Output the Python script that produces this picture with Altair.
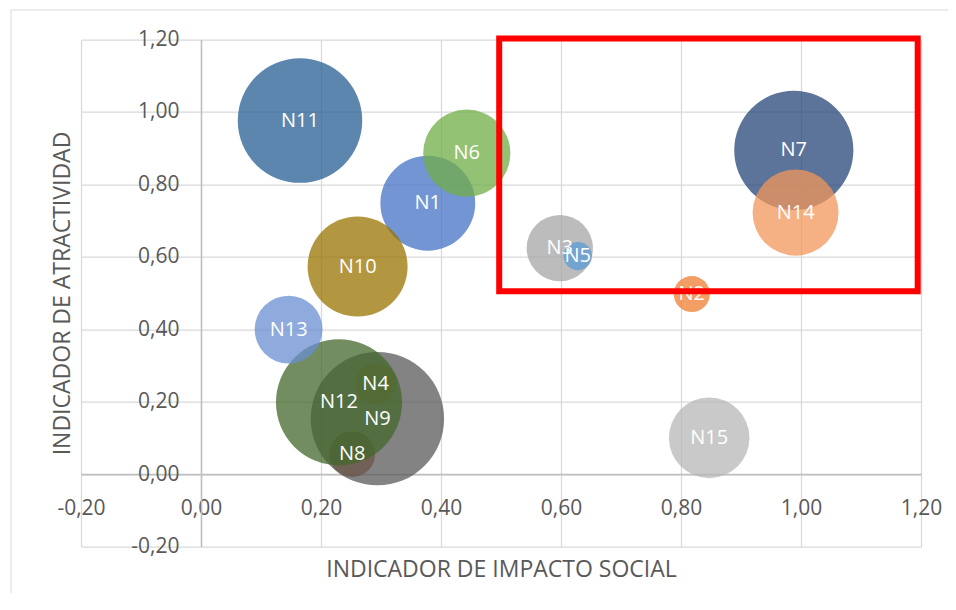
import altair as alt
import pandas as pd

# ---- data ----
nombres = ["N1", "N2", "N3", "N4", "N5", "N6", "N7", "N8", "N9", "N10",
           "N11", "N12", "N13", "N14", "N15"]
impacto_social = [0.378, 0.818, 0.598, 0.291, 0.628, 0.443, 0.988, 0.252, 0.294, 0.261,
                  0.165, 0.230, 0.146, 0.991, 0.847]
atractividad = [0.748, 0.497, 0.624, 0.249, 0.602, 0.886, 0.894, 0.055, 0.153, 0.573,
                0.976, 0.198, 0.399, 0.722, 0.100]
tamano = [90, 13, 44, 17, 8, 76, 142, 21, 178, 100,
          155, 159, 46, 74, 65]
colores = ["#4472C4", "#ED7D31", "#A5A5A5", "#FFC000", "#5B9BD5", "#70AD47", "#264478",
           "#9E480E", "#595959", "#997300", "#255E91", "#43682B", "#698ED0", "#F1975A",
           "#B7B7B7"]

marcas_eje = [-0.2, 0.0, 0.2, 0.4, 0.6, 0.8, 1.0, 1.2]

# highlighted zone (red box)
caja_x = [0.497, 1.1945]
caja_y = [0.5046, 1.2027]

TITULO_X = "INDICADOR DE IMPACTO SOCIAL"
TITULO_Y = "INDICADOR DE ATRACTIVIDAD"

df = pd.DataFrame({
    "nombre": nombres,
    "impacto": impacto_social,
    "atractividad": atractividad,
    "tamano": tamano,
    "orden": list(range(len(nombres))),
})
df_caja = pd.DataFrame({
    "impacto": [caja_x[0]], "impacto2": [caja_x[1]],
    "atractividad": [caja_y[0]], "atractividad2": [caja_y[1]],
})

W, H = 840, 507
PAD_L, PAD_T, PAD_R, PAD_B = 73, 31.5, 27, 46.5
label_expr = "replace(replace(format(datum.value, '.2f'), '.', ','), '\u2212', '-')"

xscale = alt.Scale(domain=[-0.2, 1.2], nice=False, zero=False)
yscale = alt.Scale(domain=[-0.2, 1.2], nice=False, zero=False)

x_axis = alt.Axis(
    values=marcas_eje, labelExpr=label_expr, offset=-(H / 1.4 * 0.2),
    grid=True, domain=True, domainColor="#BFBFBF", domainWidth=1.5,
    ticks=False, tickSize=0, labelPadding=23, labelFlush=False, labelOverlap=False,
    titleX=W / 2, titleY=95, titleBaseline="middle", titleAlign="center",
)
y_axis = alt.Axis(
    values=marcas_eje, labelExpr=label_expr, offset=-(W / 1.4 * 0.2),
    grid=True, domain=True, domainColor="#BFBFBF", domainWidth=1.5,
    ticks=False, tickSize=0, labelPadding=22, labelFlush=False, labelOverlap=False,
    titleX=-138.5, titleY=H / 2, titleBaseline="middle", titleAlign="center", titleAngle=270,
)

base = alt.Chart(df)

burbujas = base.mark_circle(opacity=0.75).encode(
    x=alt.X("impacto:Q", scale=xscale, axis=x_axis, title=TITULO_X),
    y=alt.Y("atractividad:Q", scale=yscale, axis=y_axis, title=TITULO_Y),
    size=alt.Size("tamano:Q", scale=alt.Scale(domain=[0, 200], range=[0, 20000]), legend=None),
    color=alt.Color("nombre:N", scale=alt.Scale(domain=nombres, range=colores), legend=None),
    order=alt.Order("orden:Q"),
)

etiquetas = base.mark_text(
    color="white", font="Open Sans", fontSize=20, align="center", baseline="middle"
).encode(
    x=alt.X("impacto:Q", title=TITULO_X),
    y=alt.Y("atractividad:Q", title=TITULO_Y),
    text="nombre:N",
)

caja = alt.Chart(df_caja).mark_rect(
    fillOpacity=0, stroke="#FF0000", strokeWidth=6
).encode(
    x=alt.X("impacto:Q", title=TITULO_X),
    x2=alt.X2("impacto2", title=TITULO_X),
    y=alt.Y("atractividad:Q", title=TITULO_Y),
    y2=alt.Y2("atractividad2", title=TITULO_Y),
)

uno = pd.DataFrame({"k": [0]})
marco_v = alt.Chart(uno).mark_rule(color="#D9D9D9", strokeWidth=1).encode(
    x=alt.value(-70), y=alt.value(-29.5), y2=alt.value(H + PAD_B)
)
marco_h = alt.Chart(uno).mark_rule(color="#D9D9D9", strokeWidth=1).encode(
    x=alt.value(-70), x2=alt.value(W + PAD_R), y=alt.value(-29.5)
)

chart = alt.layer(marco_v, marco_h, burbujas, etiquetas, caja).properties(
    width=W, height=H,
    autosize=alt.AutoSizeParams(type="none"),
    padding={"left": PAD_L, "top": PAD_T, "right": PAD_R, "bottom": PAD_B},
).configure_axis(
    labelFont="Open Sans", labelFontSize=21, labelColor="#595959",
    titleFont="Open Sans", titleFontSize=23, titleFontWeight="normal", titleColor="#595959",
    gridColor="#D9D9D9", gridWidth=1.25,
).configure_view(stroke=None)

chart.save("out.html", embed_options={"renderer": "svg", "actions": False})
